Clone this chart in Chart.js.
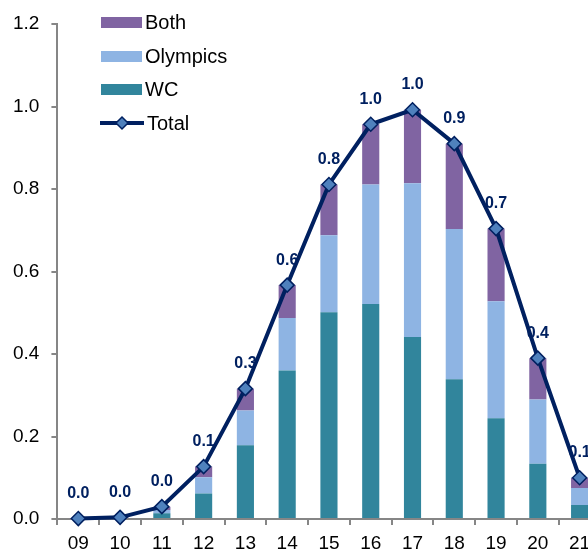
<!DOCTYPE html>
<html>
<head>
<meta charset="utf-8">
<script src="https://cdn.jsdelivr.net/npm/chart.js@4/dist/chart.umd.min.js"></script>
<style>
  html, body { margin: 0; padding: 0; background: #fff; overflow: hidden; }
  #wrap { position: relative; width: 588px; height: 552px; overflow: hidden; }
  #legend { position: absolute; left: 99px; top: 6px; font: 20px "Liberation Sans", Arial, sans-serif; color: #000; }
  .item { height: 33.5px; display: flex; align-items: center; }
  .sw { width: 41px; height: 11px; margin: 0 3px 0 2px; }
  .item svg { margin-right: 2px; }
</style>
</head>
<body>
<div id="wrap">
  <canvas id="c" width="609" height="552"></canvas>
  <div id="legend"></div>
</div>
<script>
const years = ["09", "10", "11", "12", "13", "14", "15", "16", "17", "18", "19", "20", "21"]
const wc = [0, 0, 0.014, 0.062, 0.179, 0.360, 0.501, 0.521, 0.441, 0.339, 0.244, 0.134, 0.034]
const olympics = [0, 0, 0.008, 0.039, 0.084, 0.127, 0.187, 0.290, 0.373, 0.364, 0.284, 0.156, 0.041]
const both = [0.001, 0.004, 0.008, 0.026, 0.053, 0.080, 0.123, 0.146, 0.178, 0.207, 0.176, 0.100, 0.025]
const total = [0.001, 0.004, 0.030, 0.127, 0.316, 0.567, 0.811, 0.957, 0.992, 0.910, 0.704, 0.390, 0.100]

const navy = "#002060"
const axisGrey = "#868686"
const font = "'Liberation Sans', Arial, sans-serif"

// legend in html, same order as the picture
const legendItems = [
  { label: "Both", color: "#8064A2" },
  { label: "Olympics", color: "#8EB4E3" },
  { label: "WC", color: "#31859C" }
]
const legendEl = document.getElementById("legend")
legendItems.forEach(it => {
  legendEl.innerHTML += `<div class="item"><span class="sw" style="background:${it.color}"></span>${it.label}</div>`
})
legendEl.innerHTML += `<div class="item"><svg width="46" height="16"><line x1="1" y1="8" x2="45" y2="8" stroke="${navy}" stroke-width="4"/><path d="M23 2 L29 8 L23 14 L17 8 Z" fill="#4F81BD" stroke="${navy}" stroke-width="1.5"/></svg>Total</div>`

const totalLabels = {
  id: "totalLabels",
  afterDatasetsDraw(chart) {
    const meta = chart.getDatasetMeta(3)
    const ctx = chart.ctx
    ctx.save()
    ctx.font = "bold 16px " + font
    ctx.fillStyle = navy
    ctx.textAlign = "center"
    ctx.textBaseline = "middle"
    meta.data.forEach((pt, i) => {
      ctx.fillText(total[i].toFixed(1), pt.x, pt.y - 25)
    })
    ctx.restore()
  }
}

const ctx = document.getElementById("c").getContext("2d")
new Chart(ctx, {
  type: "bar",
  data: {
    labels: years,
    datasets: [
      { label: "WC", data: wc, backgroundColor: "#31859C", order: 1 },
      { label: "Olympics", data: olympics, backgroundColor: "#8EB4E3", order: 1 },
      { label: "Both", data: both, backgroundColor: "#8064A2", order: 1 },
      {
        type: "line",
        label: "Total",
        data: total,
        stack: "total",
        borderColor: navy,
        borderWidth: 4,
        pointStyle: "rectRot",
        pointRadius: 7,
        pointBackgroundColor: "#4F81BD",
        pointBorderColor: navy,
        pointBorderWidth: 1.5,
        clip: false,
        order: 0
      }
    ]
  },
  options: {
    responsive: false,
    animation: false,
    devicePixelRatio: 1,
    layout: { padding: { left: 1, top: 24, right: 2, bottom: -10 } },
    datasets: { bar: { barPercentage: 0.41, categoryPercentage: 1 } },
    plugins: { legend: { display: false }, tooltip: { enabled: false } },
    scales: {
      x: {
        stacked: true,
        grid: { drawOnChartArea: false, drawTicks: true, tickLength: 6, color: axisGrey, lineWidth: 2 },
        border: { color: axisGrey, width: 2 },
        ticks: { color: "#000", font: { family: font, size: 19, lineHeight: 1 }, padding: 9, maxRotation: 0 }
      },
      y: {
        stacked: true,
        min: 0,
        max: 1.2,
        grid: { drawOnChartArea: false, drawTicks: true, tickLength: 6, color: axisGrey, lineWidth: 2 },
        border: { color: axisGrey, width: 2 },
        ticks: {
          stepSize: 0.2,
          color: "#000",
          font: { family: font, size: 19 },
          padding: 12,
          callback: v => v.toFixed(1)
        }
      }
    }
  },
  plugins: [totalLabels]
})
</script>
</body>
</html>
